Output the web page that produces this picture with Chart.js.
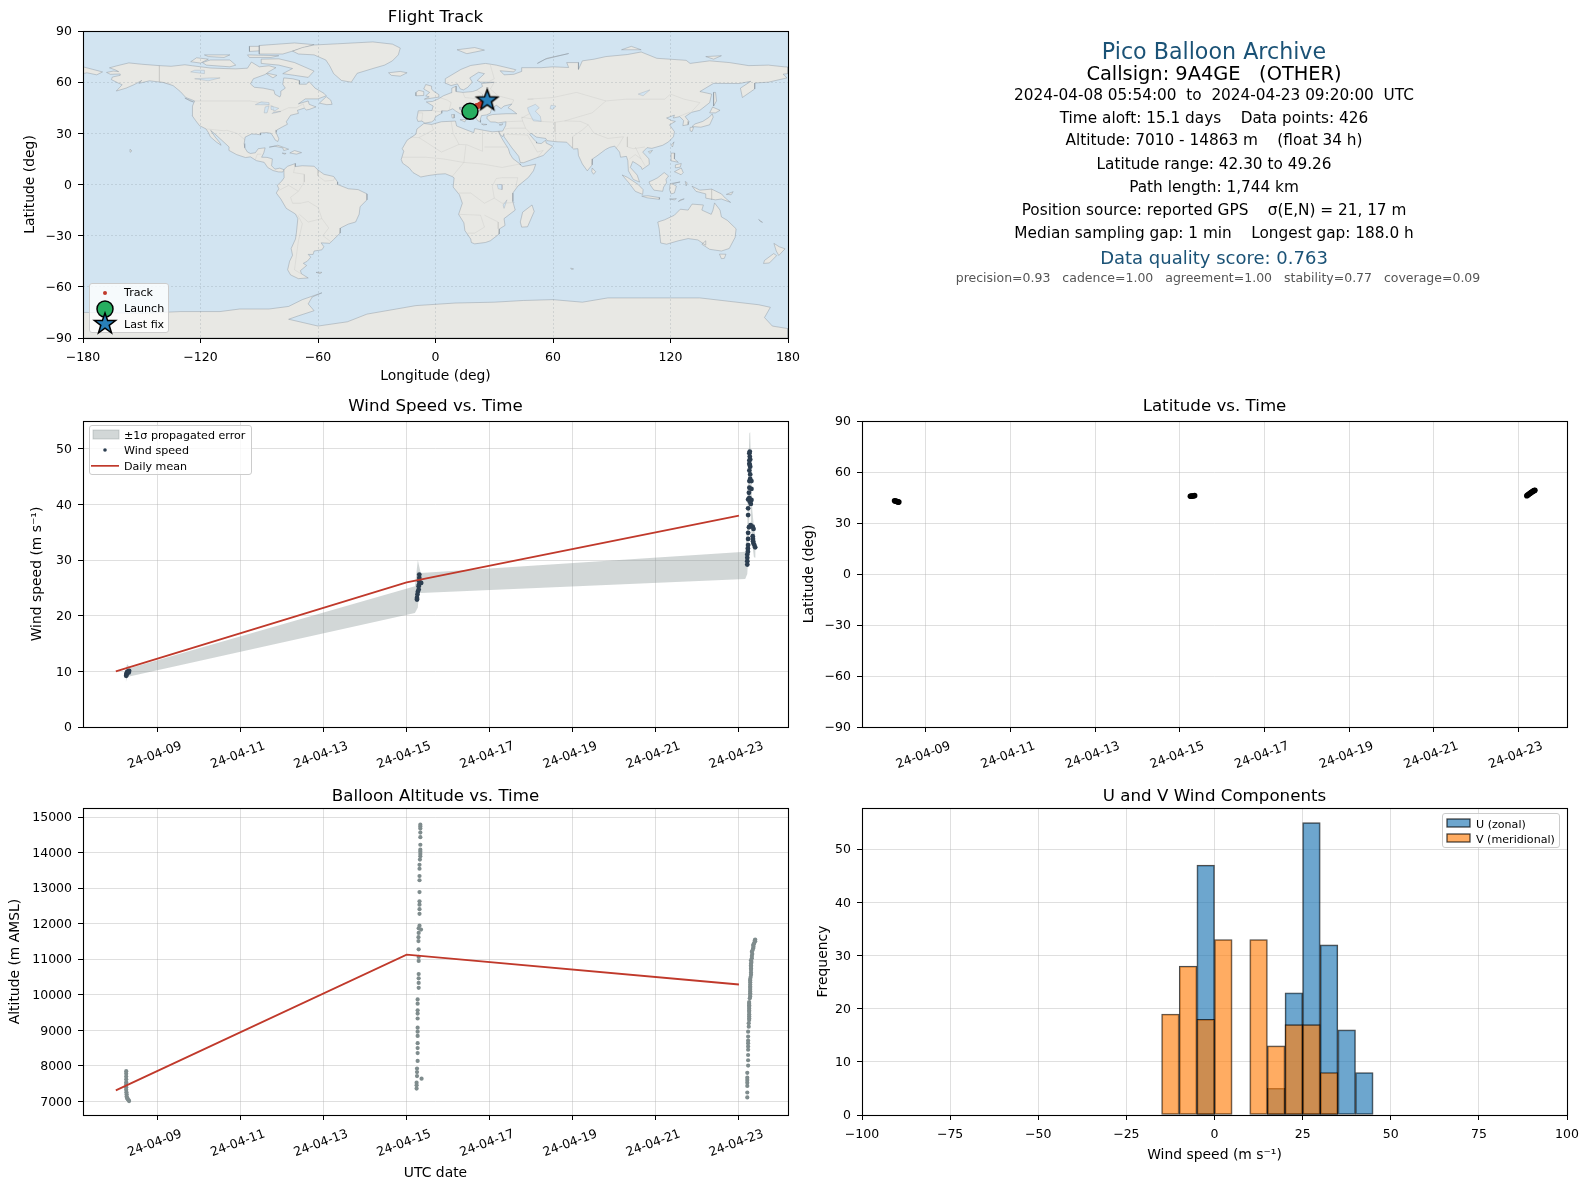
<!DOCTYPE html>
<html lang="en">
<head>
<meta charset="UTF-8">
<title>Pico Balloon Archive</title>
<script src="https://cdn.jsdelivr.net/npm/chart.js@4"></script>
<style>
  html, body { margin: 0; width: 1589px; height: 1189px; overflow: hidden; background: #fff; }
  body { position: relative; font-family: "DejaVu Sans", sans-serif; color: #000; }
  canvas { position: absolute; }
  .info { position: absolute; left: 814px; width: 800px; text-align: center; white-space: pre; transform: translateY(-50%); font-size: 15.3px; }
  .legend { position: absolute; background: rgba(255,255,255,.8); border: 1px solid #ccc; border-radius: 3px; font-size: 11.1px; box-sizing: border-box; }
  .legend span { position: absolute; transform: translateY(-50%); white-space: pre; }
  .legend svg { position: absolute; overflow: visible; }
</style>
</head>
<body>

<canvas id="trackChart" style="left:0;top:1px"></canvas>
<canvas id="windChart" style="left:0;top:391px"></canvas>
<canvas id="latChart" style="left:779px;top:391px"></canvas>
<canvas id="altChart" style="left:0;top:778px"></canvas>
<canvas id="histChart" style="left:779px;top:778px"></canvas>

<!-- summary panel -->
<div class="info" style="top:50.7px;font-size:22.2px;color:#1a5276">Pico Balloon Archive</div>
<div class="info" style="top:73px;font-size:19.4px">Callsign: 9A4GE   (OTHER)</div>
<div class="info" style="top:94.6px">2024-04-08 05:54:00  to  2024-04-23 09:20:00  UTC</div>
<div class="info" style="top:117.5px">Time aloft: 15.1 days    Data points: 426</div>
<div class="info" style="top:139.8px">Altitude: 7010 - 14863 m    (float 34 h)</div>
<div class="info" style="top:163.5px">Latitude range: 42.30 to 49.26</div>
<div class="info" style="top:186.5px">Path length: 1,744 km</div>
<div class="info" style="top:209.8px">Position source: reported GPS    σ(E,N) = 21, 17 m</div>
<div class="info" style="top:233px">Median sampling gap: 1 min    Longest gap: 188.0 h</div>
<div class="info" style="top:257.4px;font-size:18px;color:#1a5276">Data quality score: 0.763</div>
<div class="info" style="top:276.7px;left:818px;font-size:12.5px;color:#555">precision=0.93   cadence=1.00   agreement=1.00   stability=0.77   coverage=0.09</div>

<!-- legends -->
<div class="legend" style="left:89px;top:283px;width:80px;height:50px">
  <svg style="left:15px;top:8.5px" width="1" height="1"><circle r="2" fill="#c0392b"/></svg>
  <svg style="left:15px;top:24.5px" width="1" height="1"><circle r="8" fill="#27ae60" stroke="#000" stroke-width="1.5"/></svg>
  <svg style="left:15px;top:39.5px" width="1" height="1"><polygon points="0,-11 2.6,-3.4 10.5,-3.4 4.2,1.3 6.5,8.9 0,4.2 -6.5,8.9 -4.2,1.3 -10.5,-3.4 -2.6,-3.4" fill="#2980b9" stroke="#000" stroke-width="1.5"/></svg>
  <span style="left:34px;top:8px">Track</span>
  <span style="left:34px;top:24px">Launch</span>
  <span style="left:34px;top:39.5px">Last fix</span>
</div>
<div class="legend" style="left:89px;top:425px;width:163px;height:50px">
  <svg style="left:3px;top:4px" width="26" height="9"><rect width="26" height="9" fill="rgba(127,140,141,.35)" stroke="rgba(127,140,141,.35)"/></svg>
  <svg style="left:15px;top:24px" width="1" height="1"><circle r="1.8" fill="#2c3e50"/></svg>
  <svg style="left:1px;top:39px" width="28" height="2"><rect width="28" height="1.7" fill="#c0392b"/></svg>
  <span style="left:34px;top:8.5px">±1σ propagated error</span>
  <span style="left:34px;top:24px">Wind speed</span>
  <span style="left:34px;top:40px">Daily mean</span>
</div>
<div class="legend" style="left:1442px;top:813px;width:118px;height:35px">
  <svg style="left:4px;top:5px" width="23" height="8"><rect width="23" height="8" fill="rgba(31,119,180,.65)" stroke="rgba(0,0,0,.7)" stroke-width="1.3"/></svg>
  <svg style="left:4px;top:20px" width="23" height="8"><rect width="23" height="8" fill="rgba(255,127,14,.65)" stroke="rgba(0,0,0,.7)" stroke-width="1.3"/></svg>
  <span style="left:33px;top:9.5px">U (zonal)</span>
  <span style="left:33px;top:24.5px">V (meridional)</span>
</div>

<script>
// ---- data ----

// days are April dates with fractions (15.25 = 04-15 06:00)
const dateTicks = [9, 11, 13, 15, 17, 19, 21, 23];
const dateLabels = ['24-04-09', '24-04-11', '24-04-13', '24-04-15', '24-04-17', '24-04-19', '24-04-21', '24-04-23'];

const lonTicks = [-180, -120, -60, 0, 60, 120, 180];
const lonLabels = ['−180', '−120', '−60', '0', '60', '120', '180'];
const latTicks = [-90, -60, -30, 0, 30, 60, 90];
const latLabels = ['−90', '−60', '−30', '0', '30', '60', '90'];
const windTicks = [0, 10, 20, 30, 40, 50];
const altTicks = [7000, 8000, 9000, 10000, 11000, 12000, 13000, 14000, 15000];
const speedTicks = [-100, -75, -50, -25, 0, 25, 50, 75, 100];
const speedLabels = ['−100', '−75', '−50', '−25', '0', '25', '50', '75', '100'];
const freqTicks = [0, 10, 20, 30, 40, 50];

const trackLon = [17.2, 17.5, 18, 20.3, 20.8, 21.3, 22, 22.6, 23.2, 23.8, 24.4, 25, 25.6];
const trackLat = [42.9, 42.6, 42.4, 45.5, 45.8, 46, 46.2, 46.6, 47, 47.5, 48, 48.5, 49];
const launchLon = [17.6];
const launchLat = [42.9];
const lastFixLon = [26.4];
const lastFixLat = [49.26];

const windDays = [8.25, 8.255, 8.26, 8.27, 8.28, 8.3, 8.32, 8.31,
  15.25, 15.25, 15.26, 15.27, 15.29, 15.29, 15.305, 15.305, 15.305, 15.35, 15.3,
  23.2, 23.2, 23.2, 23.2, 23.215, 23.215, 23.22, 23.22, 23.22, 23.24, 23.28, 23.33, 23.35, 23.33, 23.335, 23.34, 23.35, 23.37, 23.39,
  23.22, 23.22, 23.22, 23.25, 23.3, 23.285, 23.24, 23.3, 23.25, 23.3, 23.25, 23.27, 23.25, 23.27, 23.25, 23.26, 23.25, 23.26,
  23.25, 23.26, 23.27, 23.25, 23.26, 23.27];
const windSpeeds = [9.2, 9.4, 9.6, 9.8, 9.9, 10, 10.1, 9.8,
  23.2, 22.9, 23.8, 24.3, 24.7, 25.3, 26.2, 26.8, 27.4, 25.9, 25.6,
  29.2, 29.8, 30.4, 31, 31.5, 32.1, 32.7, 33.8, 34.9, 35.9, 36.3, 36, 35.6, 34.3, 33.8, 33.4, 33, 32.7, 32.3,
  38.1, 39.3, 40.9, 40.9, 40.8, 40.1, 42.1, 42.8, 43, 44.2, 44.2, 45.4, 46.1, 46.8, 47.9, 48.6, 49.2, 49.5,
  41.2, 40.5, 44.6, 47.3, 47.1, 48.1];

const bandDays = [8.24, 8.27, 8.35, 15.2, 15.27, 15.3, 15.34, 23.15, 23.2, 23.22, 23.25, 23.27, 23.29, 23.32, 23.36, 23.4];
const bandLow = [8, 9, 9.1, 20.5, 21.5, 24.2, 24.1, 26.6, 27.5, 30, 38, 44, 36, 33, 30.5, 30.4];
const bandHigh = [10.3, 11.3, 10.6, 25.3, 30, 29, 27.7, 31.5, 36, 45, 52.8, 53, 47, 39, 36, 34];

const meanDays = [8, 15, 23];
const meanWind = [10, 26, 38];
const meanAlt = [7310, 11130, 10290];

const latDays = [8.26, 8.28, 8.3, 8.32, 8.34, 8.36, 15.25, 15.27, 15.3, 15.32, 15.35,
  23.2, 23.22, 23.24, 23.26, 23.28, 23.3, 23.32, 23.34, 23.36, 23.38, 23.39];
const latValues = [43.1, 42.9, 42.8, 42.6, 42.4, 42.3, 45.7, 45.8, 45.9, 45.9, 46.1,
  46, 46.4, 46.8, 47.2, 47.5, 47.9, 48.2, 48.5, 48.9, 49.1, 49.26];

const altDays = [8.25, 8.25, 8.25, 8.25, 8.25, 8.25, 8.25, 8.25, 8.255, 8.26, 8.26, 8.27, 8.28, 8.29, 8.31, 8.32,
  15.33, 15.33, 15.33, 15.33, 15.33, 15.33, 15.33, 15.33, 15.33, 15.33, 15.32, 15.31, 15.31, 15.31, 15.31, 15.31, 15.31, 15.31, 15.31, 15.31, 15.31,
  15.29, 15.346, 15.29, 15.285, 15.285, 15.29, 15.29, 15.29, 15.29, 15.29, 15.29, 15.29, 15.265, 15.265, 15.265, 15.265, 15.265, 15.265, 15.265, 15.265, 15.265, 15.265, 15.265, 15.265,
  15.25, 15.25, 15.25, 15.36, 15.24, 15.24, 15.24,
  23.2, 23.2, 23.2, 23.2, 23.2, 23.2, 23.2, 23.22, 23.22, 23.22, 23.22, 23.22, 23.22, 23.22, 23.22, 23.22, 23.235, 23.245, 23.245, 23.245, 23.245, 23.245, 23.245,
  23.27, 23.27, 23.27, 23.27, 23.27, 23.27, 23.29, 23.29, 23.29, 23.29, 23.29, 23.31, 23.31, 23.34, 23.34, 23.37, 23.39, 23.39,
  23.235, 23.245, 23.245, 23.245, 23.245, 23.245, 23.26, 23.27, 23.27, 23.27, 23.27, 23.27, 23.28, 23.29, 23.29, 23.29, 23.3, 23.31, 23.32, 23.33, 23.35, 23.36, 23.38];
const altMeters = [7850, 7780, 7700, 7620, 7540, 7480, 7400, 7330, 7260, 7200, 7140, 7100, 7080, 7060, 7030, 7010,
  14787, 14732, 14676, 14565, 14436, 14222, 14084, 14028, 13963, 13899, 13806, 13658, 13547, 13343, 13223, 12889, 12630, 12537, 12408, 12278, 11945,
  11871, 11834, 11741, 11621, 11510, 11278, 11065, 10954, 10584, 10463, 10334, 10195, 9870, 9750, 9565, 9472, 9333, 9074, 8963, 8843, 8639, 8500, 8361, 8139,
  7926, 7824, 7713, 7639, 7528, 7454, 7361,
  7111, 7250, 7435, 7527, 7601, 7666, 7805, 8009, 8157, 8305, 8453, 8546, 8639, 8713, 8824, 8963, 9102, 9287, 9398, 9518, 9611, 9704, 9796,
  9954, 10046, 10139, 10231, 10352, 10444, 10565, 10694, 10787, 10880, 10972, 11093, 11213, 11306, 11398, 11463, 11509, 11556,
  9200, 9340, 9450, 9560, 9660, 9750, 9900, 10000, 10090, 10190, 10290, 10400, 10500, 10630, 10740, 10830, 10920, 11030, 11150, 11260, 11350, 11430, 11530];

const histBins = [-12.5, -7.5, -2.5, 2.5, 7.5, 12.5, 17.5, 22.5, 27.5, 32.5, 37.5, 42.5];
const uCounts = [0, 0, 47, 0, 0, 0, 5, 23, 55, 32, 16, 8];
const vCounts = [19, 28, 18, 33, 0, 33, 13, 17, 17, 8, 0, 0];

// coastlines as [lon, lat] rings
const northAmerica = [[-168,65.7],[-164.5,66.5],[-161.8,66.2],[-163.5,67.2],[-166.5,68.4],[-163,69.5],[-156.6,71.3],[-150,70.5],[-141,69.7],[-135,69.3],[-128,70.2],[-124,69.6],[-115,68.3],[-108,68],[-102,67.8],[-96,68.2],[-94,71.8],[-90,69],[-85,69.6],[-81.5,68.5],[-85,66.2],[-87,64.5],[-93,62],[-94.5,59],[-92.5,57],[-88,56.5],[-82.5,55.2],[-82,52.9],[-79.5,51.3],[-79,52.5],[-79,54.7],[-76.7,56.5],[-78,58.8],[-77.5,62.5],[-73,62],[-69.5,61],[-69.5,58.8],[-66,58.8],[-64.5,60.3],[-61.5,56.5],[-57,53.5],[-55.8,52],[-60,50.2],[-66.5,50.2],[-70,47.3],[-65,49],[-64.5,47],[-61,45.5],[-64.5,44],[-66,43.7],[-67,44.8],[-70.5,43.5],[-70,41.7],[-74,40.6],[-75.5,38],[-76.2,36.8],[-75.6,35.3],[-78,33.9],[-81,32],[-81.4,30.5],[-80,26.8],[-80.5,25.2],[-81.8,26],[-82.8,28],[-84,30],[-86,30.4],[-89.5,30.2],[-89.3,29.1],[-91.5,29.5],[-94,29.6],[-97.2,27.8],[-97.7,24],[-97.4,21.5],[-96,19],[-94.5,18.2],[-92,18.6],[-90.5,21],[-87,21.5],[-87.7,18.5],[-88.8,16],[-86,15.9],[-83.3,15],[-83.7,11],[-82,9],[-79.5,9.6],[-77.4,8.7],[-78,7.3],[-80.3,7.4],[-83,8.2],[-85.7,10],[-87.5,13],[-91.5,14],[-94.5,16.2],[-97,15.8],[-101.5,17.5],[-105.5,20],[-105.4,22],[-109,25.8],[-112.5,29.5],[-114.8,31.7],[-112.5,27.8],[-110,24.3],[-109.5,23],[-112,25],[-115,28],[-116,30.5],[-117.2,32.6],[-120.5,34.5],[-122.5,37.5],[-124.3,40.4],[-124.1,46],[-123,49],[-127.5,51],[-130.3,54.5],[-134,58],[-139,59.8],[-146,60.8],[-151.5,59.3],[-150,61],[-154,58.5],[-158,56.5],[-163,54.8],[-160,58.5],[-162,59.5],[-165.5,61.5],[-165,63],[-161,64],[-161,64.8],[-166,64.6],[-168,65.7]];
const southAmerica = [[-77.4,8.7],[-75.5,10.7],[-71.5,12.3],[-71.6,10.5],[-68,11],[-62,10.7],[-60,8.5],[-57,6],[-52,4.7],[-50,1.5],[-50,0],[-44.5,-2.5],[-39.5,-3],[-35,-5.5],[-35,-9],[-38.5,-13],[-39,-17.5],[-40.8,-22],[-44.5,-23.2],[-48.5,-25.5],[-48.7,-28.5],[-52,-32.2],[-54,-34.5],[-58.4,-34.2],[-57,-36.5],[-58,-38.3],[-62,-39],[-62.5,-41],[-65,-41],[-63.7,-42.6],[-65.5,-45],[-67.5,-46.2],[-65.8,-47.5],[-69,-50.5],[-68.4,-52.4],[-65,-54.8],[-70,-55.2],[-74,-53],[-75.5,-50],[-74.5,-45],[-73,-41.5],[-73.7,-37.5],[-71.5,-32],[-71,-28],[-70.3,-20],[-71.5,-17.3],[-76.2,-14],[-79,-8.5],[-81.3,-5],[-80,-2.5],[-80.8,-0.5],[-78.5,2],[-77.3,4],[-77.4,7],[-77.4,8.7]];
const greenland = [[-73,78.2],[-68,80.3],[-62,81.8],[-50,82.5],[-32,83.6],[-22,82.3],[-18,80],[-19,76],[-22,72.5],[-26,70],[-32,68],[-40,65.2],[-43,60],[-48,61],[-52,65],[-54,69.5],[-56,73],[-62,76],[-70,76.5],[-73,78.2]];
const eurasia = [[-9,37],[-9.5,38.8],[-8.8,43.2],[-1.8,43.4],[-1.2,46],[-4.7,48.4],[-1.5,48.7],[1.5,50.2],[4,52],[8,53.8],[8.3,56.5],[10.6,57.7],[10.5,54.5],[14,54],[19,54.5],[21,55.3],[24,57.5],[23.5,59.2],[30,59.9],[23,60],[21.3,61],[25,65],[22,65.8],[17.5,62.5],[18.8,60],[16.5,57],[14.3,55.5],[12.7,56],[11.2,59],[8,58],[5.3,59.3],[5,62],[13,67.5],[18,69.8],[25.5,71],[31,70],[41,67.3],[40,66],[33,66.7],[35,64.3],[40,64.6],[44,66.3],[44,68.5],[54,68.5],[60,69],[68,68.6],[67,71.5],[73,71.5],[73,67.5],[75,72.5],[81,73.5],[87,75],[98,76.2],[105,77.7],[113,74],[128,72.8],[130,71],[140,72.5],[150,71.5],[160,69.7],[170,70],[178,69],[180,68.9],[180,65],[177.5,64.7],[179.5,62.5],[170,60],[163,59.5],[163,56],[156.7,51],[155.7,56.5],[161,60.5],[155,59.2],[142,59.3],[135,54.5],[141,53],[140,48],[135,43.5],[130.7,42.3],[127.5,39.8],[129.4,37],[129,35.1],[126.3,34.5],[126.7,37.5],[124.7,39.8],[121.5,39],[122,40.7],[118,39],[120.5,37.5],[122.5,37],[119.5,35],[122,31],[121.5,28],[119,25],[116,23],[110.5,21.2],[108,21.6],[105.8,19],[109,15],[109.2,11.8],[105.5,8.8],[105,10.3],[102.5,12.3],[100.7,13.5],[99.5,10],[103,5.5],[104.2,1.4],[101,3],[98.5,8],[98.2,14],[97.5,16.5],[94.5,16],[94,19],[91.5,22.5],[89,21.8],[86.8,20.5],[82.5,16.8],[80.2,15],[80,11.5],[77.5,8],[75,12],[73,17],[72.7,21],[70.5,20.8],[69,22.4],[67,24.8],[61.5,25.1],[57,25.7],[56.3,27],[51.5,27.8],[48.8,30],[48,29.5],[50.2,26.5],[51.5,25],[51.6,24.3],[54,24],[56.3,26],[56.5,24.3],[59.8,22.5],[55,17],[52,15.8],[45,12.8],[43.3,12.8],[42.5,16.5],[39,21.5],[35,28],[34.9,29.5],[34.2,28],[32.7,29.8],[32.4,31.2],[34.3,31.3],[35.8,34.5],[36,36.8],[32,36.1],[30.5,36.6],[28,36.7],[26.5,38.5],[26.3,40],[29,41],[31.5,41.2],[36,41.5],[41.5,41.5],[39,43.7],[37,45],[39,47.2],[35,46],[33.5,44.5],[31,46.5],[28.5,44],[28,41.8],[26,40.8],[23.5,40.4],[22.8,38],[23,36.5],[21.5,37.5],[19.5,41],[19,42.2],[14.5,45.2],[12.3,45.3],[12.5,44],[16,41.8],[18.4,40],[16.8,39.5],[16,38],[15.7,40],[12.3,41.7],[10.4,43],[8.8,44.4],[6,43.1],[3.2,43.2],[3.2,41.8],[0,39.7],[-0.7,37.7],[-2,36.7],[-5.4,36],[-7,37.2],[-9,37]];
const africa = [[-5.9,35.8],[-2,35.2],[3,36.8],[10.2,37.2],[10.8,34.3],[15.2,32.3],[19.5,30.4],[20,32.8],[25,31.7],[29,30.9],[32.4,31.2],[32.6,29.9],[34,26.8],[35.5,24],[37.2,21],[38,18],[39.5,15.2],[43.2,12],[43.3,11.5],[44.5,10.5],[51.2,11.9],[50,8],[47.5,4.2],[42,-1],[39.5,-5],[39.5,-10],[40.7,-15],[35,-20],[35.5,-24],[32.7,-26],[32.5,-29],[28,-33],[25.5,-34],[20,-34.8],[18.3,-34],[18,-32],[15,-27],[14.5,-22.5],[11.8,-17.5],[13.7,-11],[12.2,-6],[9,-1.5],[9.5,3.9],[8.5,4.7],[5,6.3],[1,6],[-4,5.2],[-7.5,4.4],[-11.5,7],[-13.5,9.8],[-16.8,12.5],[-17.5,14.7],[-16.2,19.5],[-17,21],[-14.5,26],[-10,29.5],[-9.5,32.5],[-5.9,35.8]];
const australia = [[113.5,-22],[114.2,-26],[115,-34.3],[118,-35],[124,-33],[129,-31.7],[134,-32.5],[137.8,-35.5],[138,-33],[136,-35],[140,-38],[146,-39],[150,-37.5],[153,-31],[153.5,-26],[149,-21],[146,-19],[145.3,-15],[142.5,-10.8],[141.7,-15],[140.8,-17.5],[136,-15],[136.8,-12],[131,-11.5],[129,-15],[125,-14.5],[122,-18],[117,-20.7],[113.5,-22]];
const antarctica = [[-180,-90],[-180,-75],[-150,-75.5],[-130,-74.5],[-110,-74.5],[-100,-73],[-85,-73],[-75,-71.5],[-68,-67.5],[-58,-63.5],[-63,-66],[-65,-70],[-62,-74],[-70,-77],[-75,-79],[-60,-83],[-45,-80.5],[-35,-76],[-20,-73],[-10,-71],[10,-69.5],[30,-69],[45,-68],[60,-67.5],[75,-69],[88,-66.5],[105,-66.5],[120,-66.5],[135,-66.5],[150,-68.5],[165,-70.5],[171,-72],[168,-78],[172,-83],[180,-84.5],[180,-90],[-180,-90]];
const islands = [
  [[-80,73.7],[-72,71.5],[-67,69],[-62,66.5],[-65,62.8],[-72,64],[-78,65],[-73,68],[-80,70],[-89,71],[-89,73.5],[-80,73.7]],
  [[-117,70],[-105,69],[-102,70],[-105,73],[-115,73],[-119,71.5],[-117,70]],
  [[-125,72],[-122,74.3],[-116,73.5],[-120,71.2],[-125,72]],
  [[-90,76.5],[-78,76.5],[-62,82],[-72,83],[-90,81.5],[-90,76.5]],
  [[-96,76],[-80,75.5],[-84,74.5],[-95,74.5],[-96,76]],
  [[-118,76],[-105,76],[-108,74.5],[-116,75],[-118,76]],
  [[-95,78],[-88,78.5],[-88,81],[-95,81],[-95,78]],
  [[-87,65.5],[-81,64],[-83,62.5],[-87,65.5]],
  [[-59.3,47.7],[-55.5,46.8],[-52.8,47],[-53.5,49.5],[-55.8,51.5],[-59.3,47.7]],
  [[-128,50.7],[-123.5,48.4],[-125,48.8],[-128,50.7]],
  [[-84.9,21.9],[-80.5,23],[-75,20.7],[-77.5,19.9],[-78,21.5],[-82,22.4],[-84.9,21.9]],
  [[-74.4,18.5],[-72,19.9],[-68.4,18.7],[-71,17.8],[-74.4,18.5]],
  [[-78.3,18.4],[-76.3,18.2],[-77,17.8],[-78.3,18.4]],
  [[-156,20.7],[-155,19.7],[-155.7,19],[-156,20.7]],
  [[-61,-51.5],[-58,-51.5],[-59,-52.3],[-61,-51.5]],
  [[-24,65.5],[-18,66.3],[-14.5,65.5],[-18,63.5],[-22.5,64],[-24,65.5]],
  [[-5.7,50],[1.3,51.2],[1.7,52.7],[-1,54.7],[-2,56],[-2,57.7],[-5,58.6],[-6,56],[-3,54],[-5,52],[-3.2,51.4],[-5.7,50]],
  [[-10,52],[-6.2,52.2],[-6,54.5],[-8.5,55.2],[-10,54],[-10,52]],
  [[11,79],[20,80.3],[25,78.8],[16,76.7],[11,79]],
  [[52,71],[56,73.5],[68,76.8],[57,74],[52,71]],
  [[95,79],[105,79],[100,81],[95,79]],
  [[138,75],[146,75.5],[142,73.5],[138,75]],
  [[12.5,38],[15.5,38.2],[15,36.7],[12.5,38]],
  [[8.2,41],[9.7,41],[9.5,39],[8.5,39],[8.2,41]],
  [[23.5,35.5],[26.3,35.2],[24.5,34.9],[23.5,35.5]],
  [[32.5,35],[34.5,35.6],[33.5,34.7],[32.5,35]],
  [[49.3,-12],[50.4,-15.8],[47,-24.8],[44,-25],[43.3,-22],[44.5,-16.2],[49.3,-12]],
  [[80,9.7],[81.8,7.5],[80.7,6],[79.8,7.5],[80,9.7]],
  [[131,34],[135.5,33.6],[140,35],[141.8,39.5],[141.3,41.4],[139.8,39.5],[136.5,37],[132.5,35.5],[131,34]],
  [[140,42],[141.5,45.4],[145.3,43.5],[143,42],[140,42]],
  [[130,33.5],[131.8,33.5],[131,31],[130,31.5],[130,33.5]],
  [[142,46],[143.5,49],[143,54],[142,54],[142,50],[142,46]],
  [[120.3,23],[121.8,25],[121,22],[120.3,23]],
  [[108.7,19.3],[110.8,20],[109.5,18.2],[108.7,19.3]],
  [[120.3,18.4],[122.2,18.4],[122,15],[124,13],[120.7,13.8],[120.3,18.4]],
  [[122,7.5],[125.5,9.7],[126.5,7],[125.4,5.7],[124,6.5],[122,7.5]],
  [[122.5,11.5],[125.5,12.3],[125,10.2],[122.8,9.8],[122.5,11.5]],
  [[109,1.5],[111.5,2.8],[113.5,4],[116.8,7],[119,5],[117.7,3],[118,1],[116.5,-1.5],[116,-4],[111.5,-3.3],[109.8,-0.5],[109,1.5]],
  [[95.3,5.6],[98,4.2],[103.5,0],[106,-3],[105.8,-5.8],[102,-4],[98.7,1],[95.3,5.6]],
  [[105.3,-6.8],[108.5,-6.6],[114.5,-7.7],[114.3,-8.7],[108,-7.8],[105.3,-6.8]],
  [[119.8,0.5],[124.9,1.5],[121,0.4],[123,-1],[122,-5],[120.3,-5.5],[119.5,-3],[119.8,0.5]],
  [[131,-1],[135,-3.3],[141,-2.7],[146,-5.5],[148,-8],[150.7,-10.5],[146,-8.5],[143,-9],[138,-8],[138,-5.5],[133,-4],[131,-1]],
  [[124,-10],[127,-8.4],[125,-9],[124,-10]],
  [[119.5,-8.5],[123,-8.3],[122,-9],[119.5,-8.5]],
  [[127.5,1.8],[128.5,1],[128,-0.8],[127.5,1.8]],
  [[172.8,-34.5],[175.5,-36.5],[178.5,-37.7],[175.3,-41.6],[174,-39],[172.8,-34.5]],
  [[172.7,-40.5],[174.2,-41.7],[170.5,-46],[167.5,-46.3],[168,-44.5],[172.7,-40.5]],
  [[145,-40.8],[148.3,-40.9],[147.5,-43.3],[146,-43.5],[145,-40.8]],
  [[148.5,-5.8],[152,-4.2],[151,-6],[148.5,-5.8]],
  [[165,-20.5],[167,-22.2],[166,-21.8],[165,-20.5]],
  [[69,-49],[70.5,-49.5],[69.5,-49.8],[69,-49]],
  [[-180,69],[-175,67.5],[-170,66],[-173,64.3],[-178,65.5],[-180,65],[-180,69]]
];
const lakes = [
  [[47,45],[51,47],[53,45],[51,43],[53.5,40],[54,37],[50,37.3],[49,39.5],[47.5,43],[47,45]],
  [[-92,46.8],[-85,46.7],[-85,48],[-89,48.5],[-92,46.8]],
  [[-87.5,42],[-86,42],[-85,46],[-87,45.5],[-87.5,42]],
  [[-84,46],[-80,44.7],[-82,43.2],[-83.5,44],[-84,46]],
  [[-83.5,41.6],[-79,42.8],[-80,42.8],[-83,42.2],[-83.5,41.6]],
  [[-123,62],[-116,60.8],[-110,62.5],[-115,62.5],[-123,62]],
  [[-125,66],[-118,65],[-118,67],[-123,67],[-125,66]],
  [[31.5,0],[34,0],[34,-3],[32,-2.5],[31.5,0]],
  [[59,46.5],[61.5,46],[60,44],[58.5,44.5],[59,46.5]],
  [[36.5,-9],[35,-14],[34.5,-12],[36.5,-9]],
  [[103.5,53],[109.5,55.5],[106,52],[103.5,53]]
];
const borders = [
  [[-123,49],[-95,49],[-89,48],[-83,46],[-82.5,42.5],[-79,43],[-75,45],[-71,45],[-67.5,47.3],[-67,45]],
  [[-141,69.7],[-141,60.3],[-135,59]],
  [[-117,32.6],[-108,31.5],[-106.5,31.8],[-101,29.8],[-97.2,26]],
  [[-92,14.6],[-91,17.8],[-89,17.8]],
  [[-71.5,12],[-72.5,7],[-67,6],[-67,1.5],[-70,-4],[-74,-7.5],[-73,-11],[-69,-11],[-65,-10],[-60,-13.5],[-58,-20],[-54.5,-25.5],[-57.5,-30],[-53.5,-33.5]],
  [[-80,-3.5],[-75,-0.5],[-70,-4]],
  [[-70.3,-18],[-68,-23],[-70,-33],[-72,-50],[-68.5,-52.5]],
  [[-69.5,-17.5],[-65,-22],[-58,-20]],
  [[-60,8.5],[-60,5],[-56.5,2],[-52,2.5],[-51.5,4.2]],
  [[-8.5,27.5],[-1,32],[-2,35]],
  [[-13,27.8],[-8.5,27.5],[-5,25],[3,19],[12,23.5],[16,23.3],[24,19.5],[24,31.5]],
  [[8,37],[9,30],[12,23.5]],
  [[25,22],[36.8,22]],
  [[-17,16],[-5,16],[4,15],[14,13],[24,12],[34,10],[43,12]],
  [[8.5,4.7],[14.5,13],[15.5,23]],
  [[12,-5],[18,-5],[25,-11],[30,-8],[29,-1],[31,3.5],[34,4],[42,4],[41,-1.5]],
  [[12,-17.5],[23,-18],[25,-25],[20,-28.5],[16.5,-28.5]],
  [[25,-18],[32,-22],[32,-26]],
  [[40.5,-10.5],[34,-11],[30,-8]],
  [[2,51],[6,49.5],[8,48],[7,44]],
  [[-1.8,43.4],[3.2,42.5]],
  [[-8.8,42],[-6.5,42],[-7,37.2]],
  [[14,54],[15,51],[24,50],[28,45.5]],
  [[21,55.3],[24,53],[24,50]],
  [[30,59.9],[28,56],[32,52],[40,49.6],[39,47.2]],
  [[28,70],[30,62],[27.5,60.5]],
  [[44,39],[48,41.5]],
  [[36,36.8],[44.5,37.2],[44,39.5]],
  [[44.5,37.2],[46,33],[48.5,30]],
  [[46,33],[38,33],[35.5,32.5]],
  [[36,29.5],[47,29],[52,19],[55,20],[52,15.8]],
  [[44,39.5],[49,38.5],[54,37],[61,36.5],[61,31],[61.5,25]],
  [[61,36.5],[66,37.3],[74,37],[78,35],[75,32],[70,28],[70,21.5]],
  [[78,35],[81,30],[88,27],[96,28],[94,24],[92,21]],
  [[50,50],[47,50],[60,51],[72,54],[87,49],[97,50],[107,50],[117,50],[120,53],[127,50],[135,48],[131,43]],
  [[87,49],[80,42],[74,40],[66,37.3]],
  [[98,28],[98,22],[101,21],[107,22]],
  [[102,22],[105,15],[107,11]],
  [[99,15],[102,17.5],[105,15]],
  [[124.5,40],[130,42.5]],
  [[141,-2.7],[141,-9]]
];

// ---- chart setup ----

const AXIS_W = 705, LEFT_W = 83, TITLE_H = 30, BOTTOM_H = 70;
const GRID = 'rgba(176,176,176,0.4)';
const MAP_GRID = 'rgba(110,125,135,0.2)';
const LABEL_SIZE = 13.9;

Chart.defaults.font.family = '"DejaVu Sans", sans-serif';
Chart.defaults.font.size = 12.5;
Chart.defaults.color = '#000';
Chart.defaults.animation = false;

const pairs = (xs, ys) => xs.map((x, i) => ({x: x, y: ys[i]}));
const ring = (pts) => pts.map(p => ({x: p[0], y: p[1]}));

// black box round the plot, like the matplotlib spines
// also moves the y labels 1px down, canvas "middle" sits a little high
const framePlugin = {
  id: 'frame',
  beforeDraw(chart) {
    chart.scales.y.getLabelItems().forEach(item => {
      if (!item.moved) {
        item.options.translation[1] += 1;
        item.moved = true;
      }
    });
  },
  afterDraw(chart) {
    const a = chart.chartArea, ctx = chart.ctx;
    ctx.save();
    ctx.strokeStyle = '#000';
    ctx.lineWidth = 1.1;
    ctx.strokeRect(a.left + 0.5, a.top + 0.5, a.right - a.left, a.bottom - a.top);
    ctx.restore();
  }
};

// chart.js right-aligns rotated labels on the tick, the reference centres them
const centreLabelsPlugin = {
  id: 'centreLabels',
  beforeDraw(chart) {
    chart.scales.x.getLabelItems().forEach(item => {
      item.options.textAlign = 'center';
      item.options.textBaseline = 'middle';
      item.textOffset = 0;
      item.options.translation = [item.options.translation[0], chart.chartArea.bottom + 28.5];
    });
  }
};

const oceanPlugin = {
  id: 'ocean',
  beforeDatasetsDraw(chart) {
    const a = chart.chartArea, ctx = chart.ctx;
    ctx.save();
    ctx.fillStyle = '#d2e4f1';
    ctx.fillRect(a.left, a.top, a.right - a.left, a.bottom - a.top);
    ctx.restore();
  }
};

function axis(o) {
  const isX = o.isX;
  return {
    type: 'linear',
    position: isX ? 'bottom' : 'left',
    offset: false,
    min: o.min,
    max: o.max,
    afterBuildTicks: s => { s.ticks = o.ticks.map(v => ({value: v})); },
    afterFit: s => { if (isX) s.height = BOTTOM_H; else s.width = LEFT_W; },
    ticks: {
      autoSkip: false,
      padding: isX ? 7 : 6,
      minRotation: o.rotation || 0,
      maxRotation: o.rotation || 0,
      callback: (v, i) => o.labels ? o.labels[i] : String(v)
    },
    grid: {offset: false, color: o.gridColor || GRID, tickColor: '#000', tickLength: 5, lineWidth: 1, z: o.gridZ || 0},
    border: {display: false, dash: o.dash},
    title: {
      display: !!o.title,
      text: o.title,
      font: {size: LABEL_SIZE},
      padding: isX ? {top: 0, bottom: o.titlePad} : {top: o.titlePad, bottom: 0}
    }
  };
}

function chartOptions(title, titleTop, x, y) {
  return {
    responsive: false,
    animation: false,
    layout: {autoPadding: false, padding: {right: LEFT_W}},
    scales: {x: axis(Object.assign({isX: true}, x)), y: axis(y)},
    plugins: {
      legend: {display: false},
      tooltip: {enabled: false},
      title: {display: true, fullSize: false, text: title, font: {size: 16.67, weight: 'normal'}, padding: {top: titleTop, bottom: 10 - titleTop}}
    }
  };
}

function sizeCanvas(id, axisH) {
  const c = document.getElementById(id);
  c.width = AXIS_W + 2 * LEFT_W;
  c.height = TITLE_H + axisH + BOTTOM_H;
  return c;
}

function dots(data, color, radius, order) {
  return {data: data, showLine: false, pointRadius: radius, pointBorderWidth: 0, pointBackgroundColor: color, order: order};
}

function redLine(xs, ys) {
  return {data: pairs(xs, ys), borderColor: '#c0392b', borderWidth: 1.9, pointRadius: 0, order: 1};
}

// filled star used for the last fix, chart.js's own "star" is only an asterisk
function starIcon() {
  const c = document.createElement('canvas');
  c.width = 26; c.height = 26;
  const g = c.getContext('2d');
  g.beginPath();
  for (let i = 0; i < 10; i++) {
    const r = i % 2 ? 4.5 : 11;
    const a = -Math.PI / 2 + i * Math.PI / 5;
    g.lineTo(13 + r * Math.cos(a), 13 + r * Math.sin(a));
  }
  g.closePath();
  g.fillStyle = '#2980b9';
  g.fill();
  g.lineWidth = 1.5;
  g.stroke();
  return c;
}

// ---- flight track ----

const mapDatasets = [];
[northAmerica, southAmerica, greenland, eurasia, africa, australia, antarctica].concat(islands).forEach(poly => {
  mapDatasets.push({data: ring(poly), fill: 'shape', backgroundColor: '#e8e8e4', borderColor: 'rgba(130,140,150,0.4)', borderWidth: 1, pointRadius: 0, order: 5});
});
lakes.forEach(poly => {
  mapDatasets.push({data: ring(poly), fill: 'shape', backgroundColor: '#d2e4f1', borderColor: 'rgba(130,140,150,0.3)', borderWidth: 0.8, pointRadius: 0, order: 4});
});
borders.forEach(line => {
  mapDatasets.push({data: ring(line), borderColor: 'rgba(150,150,150,0.18)', borderWidth: 0.8, pointRadius: 0, order: 3});
});
mapDatasets.push(dots(pairs(trackLon, trackLat), '#c0392b', 3, 2));
mapDatasets.push({data: pairs(launchLon, launchLat), showLine: false, pointRadius: 8, pointBackgroundColor: '#27ae60', pointBorderColor: '#000', pointBorderWidth: 1.5, order: 1});
mapDatasets.push({data: pairs(lastFixLon, lastFixLat), showLine: false, pointRadius: 11, pointStyle: starIcon(), order: 0});

new Chart(sizeCanvas('trackChart', 307), {
  type: 'line',
  data: {datasets: mapDatasets},
  options: chartOptions('Flight Track', 7,
    {min: -180, max: 180, ticks: lonTicks, labels: lonLabels, title: 'Longitude (deg)', titlePad: 23, gridColor: MAP_GRID, dash: [2, 2], gridZ: 1},
    {min: -90, max: 90, ticks: latTicks, labels: latLabels, title: 'Latitude (deg)', titlePad: 22, gridColor: MAP_GRID, dash: [2, 2], gridZ: 1}),
  plugins: [oceanPlugin, framePlugin]
});

// ---- wind speed ----

new Chart(sizeCanvas('windChart', 306), {
  type: 'line',
  data: {datasets: [
    redLine(meanDays, meanWind),
    dots(pairs(windDays, windSpeeds), '#2c3e50', 2.4, 2),
    {data: pairs(bandDays, bandHigh), fill: 3, backgroundColor: 'rgba(127,140,141,0.35)', borderWidth: 0, pointRadius: 0, order: 3},
    {data: pairs(bandDays, bandLow), borderWidth: 0, pointRadius: 0, order: 4}
  ]},
  options: chartOptions('Wind Speed vs. Time', 6,
    {min: 7.21, max: 24.18, ticks: dateTicks, labels: dateLabels, rotation: 20},
    {min: 0, max: 55, ticks: windTicks, title: 'Wind speed (m s⁻¹)', titlePad: 29}),
  plugins: [centreLabelsPlugin, framePlugin]
});

// ---- latitude ----

new Chart(sizeCanvas('latChart', 306), {
  type: 'line',
  data: {datasets: [dots(pairs(latDays, latValues), '#000', 2.8, 1)]},
  options: chartOptions('Latitude vs. Time', 6,
    {min: 7.49, max: 24.15, ticks: dateTicks, labels: dateLabels, rotation: 20},
    {min: -90, max: 90, ticks: latTicks, labels: latLabels, title: 'Latitude (deg)', titlePad: 22}),
  plugins: [centreLabelsPlugin, framePlugin]
});

// ---- altitude ----

new Chart(sizeCanvas('altChart', 307), {
  type: 'line',
  data: {datasets: [
    redLine(meanDays, meanAlt),
    dots(pairs(altDays, altMeters), '#7f8c8d', 2.1, 2)
  ]},
  options: chartOptions('Balloon Altitude vs. Time', 9,
    {min: 7.21, max: 24.18, ticks: dateTicks, labels: dateLabels, rotation: 20, title: 'UTC date', titlePad: 3},
    {min: 6617, max: 15256, ticks: altTicks, title: 'Altitude (m AMSL)', titlePad: 7}),
  plugins: [centreLabelsPlugin, framePlugin]
});

// ---- wind components ----

new Chart(sizeCanvas('histChart', 307), {
  type: 'bar',
  data: {datasets: [
    {data: pairs(histBins, uCounts.map(v => v || null)), backgroundColor: 'rgba(31,119,180,0.65)', borderColor: 'rgba(0,0,0,0.7)', borderWidth: 1.1, borderSkipped: false, grouped: false, barPercentage: 1, categoryPercentage: 1, order: 2},
    {data: pairs(histBins, vCounts.map(v => v || null)), backgroundColor: 'rgba(255,127,14,0.65)', borderColor: 'rgba(0,0,0,0.7)', borderWidth: 1.1, borderSkipped: false, grouped: false, barPercentage: 1, categoryPercentage: 1, order: 1}
  ]},
  options: chartOptions('U and V Wind Components', 9,
    {min: -100, max: 100, ticks: speedTicks, labels: speedLabels, title: 'Wind speed (m s⁻¹)', titlePad: 21},
    {min: 0, max: 57.75, ticks: freqTicks, title: 'Frequency', titlePad: 36}),
  plugins: [framePlugin]
});
</script>
</body>
</html>
